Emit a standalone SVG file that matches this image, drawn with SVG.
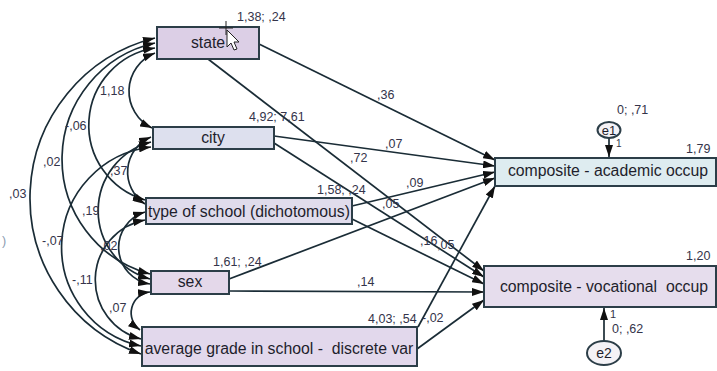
<svg xmlns="http://www.w3.org/2000/svg" width="717" height="371" viewBox="0 0 717 371">
<defs>
<marker id="ah" viewBox="0 0 12 8" refX="12" refY="4" markerWidth="12" markerHeight="8" markerUnits="userSpaceOnUse" orient="auto-start-reverse"><path d="M0,0 L12,4 L0,8 z" fill="#111"/></marker>
</defs>
<style>
.box{stroke:#2c3e48;stroke-width:2}
.nt{font-family:"Liberation Sans",Arial,sans-serif;font-size:15.8px;fill:#1e1e2c;text-anchor:middle;white-space:pre}
.num{font-family:"Liberation Sans",Arial,sans-serif;font-size:12.5px;fill:#34344a}
.ln{fill:none;stroke:#1a2c36;stroke-width:1.7;marker-end:url(#ah)}
.cov{fill:none;stroke:#1a2c36;stroke-width:1.7;marker-start:url(#ah);marker-end:url(#ah)}
.err{fill:#f4f2f6;stroke:#2c3e48;stroke-width:2}
</style>
<rect width="717" height="371" fill="#fff"/>
<g id="connectors">
<path class="cov" d="M155,53 A41,41 0 0 0 152,128"/>
<path class="cov" d="M155,48 A78,78 0 0 0 145,200"/>
<path class="cov" d="M155,43 A119,119 0 0 0 150,274"/>
<path class="cov" d="M155,38 A165,165 0 0 0 141,354"/>
<path class="cov" d="M151,137 A38,38 0 0 0 145,204"/>
<path class="cov" d="M151,142 A71,71 0 0 0 150,279"/>
<path class="cov" d="M151,147 A101,101 0 0 0 141,346"/>
<path class="cov" d="M145,212 A37,37 0 0 0 150,284"/>
<path class="cov" d="M145,220 A61,61 0 0 0 141,339"/>
<path class="cov" d="M150,292 A21,21 0 0 0 140,330"/>
<path class="ln" d="M259,44 L495,160"/>
<path class="ln" d="M208,59 L484,271"/>
<path class="ln" d="M274,136 L495,166"/>
<path class="ln" d="M274,143 L484,277"/>
<path class="ln" d="M352,206 L495,172"/>
<path class="ln" d="M352,219 L484,284"/>
<path class="ln" d="M229,279 L495,178"/>
<path class="ln" d="M229,291 L484,292"/>
<path class="ln" d="M418,327 L495,186"/>
<path class="ln" d="M417,349 L484,300"/>
<path class="ln" d="M609,138 L609,157"/>
<path class="ln" d="M604,341 L604,308"/>
</g>
<g id="state"><rect class="box" x="157" y="27" width="102" height="32" fill="#dccfe6"/><text class="nt" x="208" y="48">state</text></g>
<g id="city"><rect class="box" x="153" y="127" width="121" height="22" fill="#dde0ee"/><text class="nt" x="213" y="143">city</text></g>
<g id="type"><rect class="box" x="146" y="198" width="206" height="26" fill="#e0dcec"/><text class="nt" x="249" y="217">type of school (dichotomous)</text></g>
<g id="sex"><rect class="box" x="151" y="271" width="78" height="23" fill="#e4d8ea"/><text class="nt" x="190" y="287">sex</text></g>
<g id="avg"><rect class="box" x="142" y="327" width="275" height="39" fill="#e2d8ec"/><text class="nt" x="279" y="354">average grade in school -  discrete var</text></g>
<g id="academic"><rect class="box" x="495" y="158" width="221" height="28" fill="#deecf0"/><text class="nt" x="608" y="176">composite - academic occup</text></g>
<g id="vocational"><rect class="box" x="484" y="266" width="232" height="41" fill="#e6dded"/><text class="nt" x="604" y="292">composite - vocational  occup</text></g>
<g id="e1"><ellipse class="err" cx="609" cy="130" rx="11.5" ry="8"/><text class="nt" x="609" y="135" style="font-size:13px">e1</text></g>
<g id="e2"><ellipse class="err" cx="604" cy="353" rx="17" ry="12"/><text class="nt" x="604" y="358" style="font-size:14px">e2</text></g>
<g id="labels">
<text class="num" x="237" y="21">1,38; ,24</text>
<text class="num" x="249" y="121">4,92; 7,61</text>
<text class="num" x="317" y="194">1,58; ,24</text>
<text class="num" x="213" y="266">1,61; ,24</text>
<text class="num" x="368" y="323">4,03; ,54</text>
<text class="num" x="686" y="153">1,79</text>
<text class="num" x="686" y="260">1,20</text>
<text class="num" x="617" y="114">0; ,71</text>
<text class="num" x="616" y="147" style="font-size:10px">1</text>
<text class="num" x="610" y="318" style="font-size:11px">1</text>
<text class="num" x="612" y="333">0; ,62</text>
<text class="num" x="377" y="99">,36</text>
<text class="num" x="385" y="148">,07</text>
<text class="num" x="350" y="162">,72</text>
<text class="num" x="406" y="187">,09</text>
<text class="num" x="382" y="208">,05</text>
<text class="num" x="420" y="245">,16</text>
<text class="num" x="437" y="249">,05</text>
<text class="num" x="357" y="286">,14</text>
<text class="num" x="422" y="322">-,02</text>
<text class="num" x="100" y="95">1,18</text>
<text class="num" x="65" y="130">-,06</text>
<text class="num" x="43" y="166">,02</text>
<text class="num" x="9" y="198">,03</text>
<text class="num" x="110" y="175">,37</text>
<text class="num" x="82" y="215">,19</text>
<text class="num" x="42" y="245">-,07</text>
<text class="num" x="100" y="250">,02</text>
<text class="num" x="72" y="284">-,11</text>
<text class="num" x="109" y="312">,07</text>
<text class="num" x="2" y="245" style="fill:#8a9ab0">)</text>
</g>
<g id="cursor" fill="none" stroke="#222" stroke-width="1">
<path d="M219,28 H233 M226,21 V35"/>
<path d="M227,30 L227,47 L231,43 L234,50 L237,49 L234,42 L239,42 Z" fill="#fff"/>
</g>
</svg>
